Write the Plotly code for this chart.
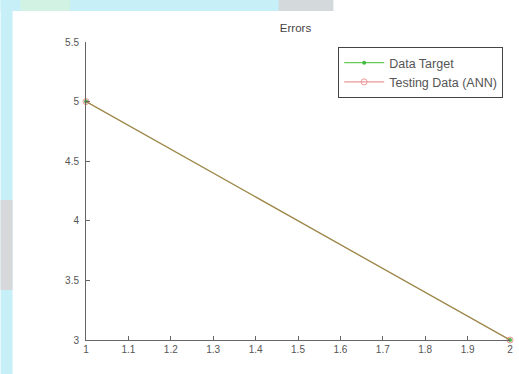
import plotly.graph_objects as go

# Sample index and error values for the two series
x_vals = [1, 2]
data_target = [5, 3]
testing_ann = [5, 3]

x_ticks = [1, 1.1, 1.2, 1.3, 1.4, 1.5, 1.6, 1.7, 1.8, 1.9, 2]
x_tick_text = ["1", "1.1", "1.2", "1.3", "1.4", "1.5", "1.6", "1.7", "1.8", "1.9", "2"]
y_ticks = [3, 3.5, 4, 4.5, 5, 5.5]
y_tick_text = ["3", "3.5", "4", "4.5", "5", "5.5"]

W, H = 519, 374
L, R, T, B = 86, 6, 42, 34
pw, ph = W - L - R, H - T - B


def px_x(p):
    return (p - L) / pw


def px_y(p):
    return (H - B - p) / ph


font = dict(family="Liberation Sans, Arial, sans-serif", size=10, color="#555555")

fig = go.Figure()
fig.add_trace(go.Scatter(
    x=x_vals, y=data_target, mode="lines+markers", name="Data Target",
    line=dict(color="#66cc55", width=1.2),
    marker=dict(color="#44bb44", size=4, symbol="circle"),
    cliponaxis=False,
))
fig.add_trace(go.Scatter(
    x=x_vals, y=testing_ann, mode="lines+markers", name="Testing Data (ANN)",
    line=dict(color="#dd4444", width=1.2),
    marker=dict(color="#dd4444", size=6, symbol="circle-open", line=dict(width=1)),
    opacity=0.55,
    cliponaxis=False,
))

# Tinted border strips around the white figure area
shapes = [
    dict(type="rect", xref="paper", yref="paper", layer="below",
         x0=px_x(0), x1=px_x(12), y0=px_y(374), y1=px_y(0),
         fillcolor="#c6eff7", line=dict(width=0)),
    dict(type="rect", xref="paper", yref="paper", layer="below",
         x0=px_x(0), x1=px_x(12), y0=px_y(290), y1=px_y(200),
         fillcolor="#d6d8da", line=dict(width=0)),
    dict(type="rect", xref="paper", yref="paper", layer="below",
         x0=px_x(0), x1=px_x(335), y0=px_y(11), y1=px_y(0),
         fillcolor="#c6eff7", line=dict(width=0)),
    dict(type="rect", xref="paper", yref="paper", layer="below",
         x0=px_x(20), x1=px_x(70), y0=px_y(11), y1=px_y(0),
         fillcolor="#d2f2e4", line=dict(width=0)),
    dict(type="rect", xref="paper", yref="paper", layer="below",
         x0=px_x(280), x1=px_x(335), y0=px_y(11), y1=px_y(0),
         fillcolor="#d4d9dc", line=dict(width=0)),
]

fig.update_layout(
    width=W, height=H,
    margin=dict(l=L, r=R, t=T, b=B, pad=0),
    paper_bgcolor="white", plot_bgcolor="white",
    font=font,
    shapes=shapes,
    title=dict(text="Errors", x=px_x(297), xanchor="center", xref="paper",
               y=1 - 28 / H, yanchor="middle", font=dict(size=11.5, color="#444444")),
    showlegend=True,
    legend=dict(x=px_x(340), y=px_y(47), xanchor="left", yanchor="top",
                bgcolor="white", bordercolor="#444444", borderwidth=1,
                font=dict(size=12.5, color="#555555"),
                tracegroupgap=0, itemwidth=40),
    xaxis=dict(range=[1, 2], tickvals=x_ticks, ticktext=x_tick_text,
               showgrid=False, zeroline=False, showline=True,
               linecolor="#666666", linewidth=1, ticks="inside", ticklen=4,
               tickcolor="#666666", mirror=False, fixedrange=True),
    yaxis=dict(range=[3, 5.5], tickvals=y_ticks, ticktext=y_tick_text,
               showgrid=False, zeroline=False, showline=True,
               linecolor="#666666", linewidth=1, ticks="inside", ticklen=4,
               tickcolor="#666666", mirror=False, fixedrange=True,
               ticklabelstandoff=4),
)

fig.write_html("out.html", config=dict(displayModeBar=False))
